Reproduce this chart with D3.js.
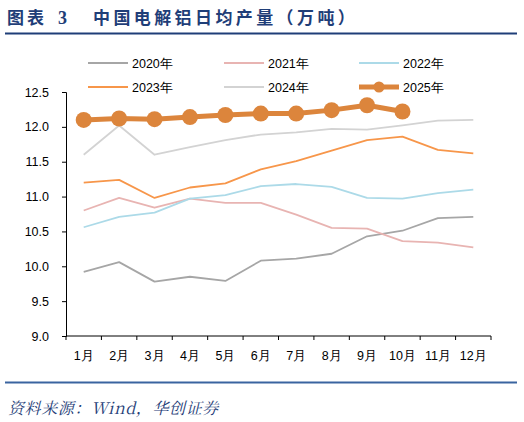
<!DOCTYPE html>
<html>
<head>
<meta charset="utf-8">
<script src="https://cdn.jsdelivr.net/npm/d3@7/dist/d3.min.js"></script>
<style>
  body { margin: 0; background: #fff; }
  svg { display: block; }
</style>
</head>
<body>
<div id="vis"></div>
<script>
// months on the x axis
var months = ["1月","2月","3月","4月","5月","6月","7月","8月","9月","10月","11月","12月"];

// daily output per year, 10k tonnes
var y2020 = [9.92, 10.06, 9.78, 9.85, 9.79, 10.08, 10.11, 10.18, 10.43, 10.51, 10.69, 10.71];
var y2021 = [10.80, 10.98, 10.84, 10.97, 10.91, 10.91, 10.74, 10.55, 10.54, 10.36, 10.34, 10.27];
var y2022 = [10.56, 10.71, 10.77, 10.97, 11.02, 11.15, 11.18, 11.14, 10.98, 10.97, 11.05, 11.10];
var y2023 = [11.20, 11.24, 10.98, 11.13, 11.19, 11.39, 11.51, 11.66, 11.81, 11.86, 11.67, 11.62];
var y2024 = [11.60, 12.02, 11.60, 11.71, 11.81, 11.89, 11.92, 11.97, 11.96, 12.02, 12.09, 12.10];
var y2025 = [12.10, 12.12, 12.11, 12.14, 12.17, 12.19, 12.19, 12.24, 12.31, 12.22];

var yTicks = [9.0, 9.5, 10.0, 10.5, 11.0, 11.5, 12.0, 12.5];

var series = [
  {name: "2020年", values: y2020, color: "#A6A6A6"},
  {name: "2021年", values: y2021, color: "#E8B4B2"},
  {name: "2022年", values: y2022, color: "#ACDAE8"},
  {name: "2023年", values: y2023, color: "#F7964A"},
  {name: "2024年", values: y2024, color: "#D3D3D3"},
  {name: "2025年", values: y2025, color: "#DC853C", bold: true}
];

var width = 524, height = 422;
var navy = "#1F3E78";

var svg = d3.select("#vis").append("svg")
  .attr("width", width)
  .attr("height", height);

// title + rule
var title = svg.append("g")
  .attr("font-family", "'Noto Sans CJK SC', sans-serif")
  .attr("font-weight", "bold")
  .attr("font-size", 17)
  .attr("fill", navy);
title.append("text").attr("x", 7).attr("y", 24).attr("letter-spacing", 3).text("图表");
title.append("text").attr("x", 58).attr("y", 24).attr("font-family", "'Liberation Serif', serif").attr("font-size", 18).text("3");
title.append("text").attr("x", 93).attr("y", 24).attr("letter-spacing", 3.4).text("中国电解铝日均产量（万吨）");

svg.append("line")
  .attr("x1", 5).attr("x2", 517)
  .attr("y1", 33.5).attr("y2", 33.5)
  .attr("stroke", navy).attr("stroke-width", 2);

// scales
var x = d3.scaleBand().domain(months).range([66, 491]);
var y = d3.scaleLinear().domain([9, 12.5]).range([336, 92]);

var font = "'Liberation Sans', Arial, sans-serif";

// y axis
var yAxis = svg.append("g")
  .attr("transform", "translate(66,0)")
  .call(d3.axisLeft(y).tickValues(yTicks).tickFormat(d3.format(".1f")).tickSizeOuter(0).tickSize(4));
yAxis.select(".domain").attr("stroke", "#000");
yAxis.selectAll("text").attr("font-family", font).attr("font-size", 12.5).attr("fill", "#000").attr("x", -17);

// x axis, ticks on band edges
var xAxis = svg.append("g")
  .attr("transform", "translate(0,336)");
xAxis.append("line")
  .attr("x1", 66).attr("x2", 491)
  .attr("stroke", "#000");
xAxis.selectAll("line.tk")
  .data(months.concat(["end"]))
  .enter().append("line")
  .attr("class", "tk")
  .attr("x1", (d, i) => 66 + i * x.step())
  .attr("x2", (d, i) => 66 + i * x.step())
  .attr("y1", 0).attr("y2", 4)
  .attr("stroke", "#000");
xAxis.selectAll("text")
  .data(months)
  .enter().append("text")
  .attr("x", d => x(d) + x.bandwidth() / 2)
  .attr("y", 24)
  .attr("text-anchor", "middle")
  .attr("font-family", font)
  .attr("font-size", 12.5)
  .attr("fill", "#000")
  .text(d => d);

var cx = (d, i) => x(months[i]) + x.bandwidth() / 2;
var line = d3.line().x(cx).y(d => y(d));

// lines
series.forEach(function (s) {
  svg.append("path")
    .datum(s.values)
    .attr("d", line)
    .attr("fill", "none")
    .attr("stroke", s.color)
    .attr("stroke-width", s.bold ? 5 : 1.8)
    .attr("stroke-linejoin", "round");
  if (s.bold) {
    svg.selectAll("circle.m")
      .data(s.values)
      .enter().append("circle")
      .attr("class", "m")
      .attr("cx", cx)
      .attr("cy", d => y(d))
      .attr("r", 8)
      .attr("fill", s.color);
  }
});

// legend
var legPos = [[88, 63], [224, 63], [359, 63], [88, 87], [224, 87], [359, 87]];
series.forEach(function (s, i) {
  var g = svg.append("g").attr("transform", "translate(" + legPos[i][0] + "," + legPos[i][1] + ")");
  g.append("line")
    .attr("x1", 0).attr("x2", 40)
    .attr("stroke", s.color)
    .attr("stroke-width", s.bold ? 5 : 1.8);
  if (s.bold) {
    g.append("circle").attr("cx", 20).attr("r", 5.5).attr("fill", s.color);
  }
  g.append("text")
    .attr("x", 44).attr("y", 4.5)
    .attr("font-family", font)
    .attr("font-size", 12.5)
    .attr("fill", "#000")
    .text(s.name);
});

// footer
svg.append("line")
  .attr("x1", 5).attr("x2", 517)
  .attr("y1", 382.5).attr("y2", 382.5)
  .attr("stroke", "#3A64A0").attr("stroke-width", 2);

svg.append("text")
  .attr("x", 8).attr("y", 414)
  .attr("font-family", "'Noto Serif CJK SC', 'Liberation Serif', serif")
  .attr("font-style", "italic")
  .attr("font-size", 16)
  .attr("letter-spacing", 0.6)
  .attr("fill", navy)
  .text("资料来源：Wind，华创证券");
</script>
</body>
</html>
